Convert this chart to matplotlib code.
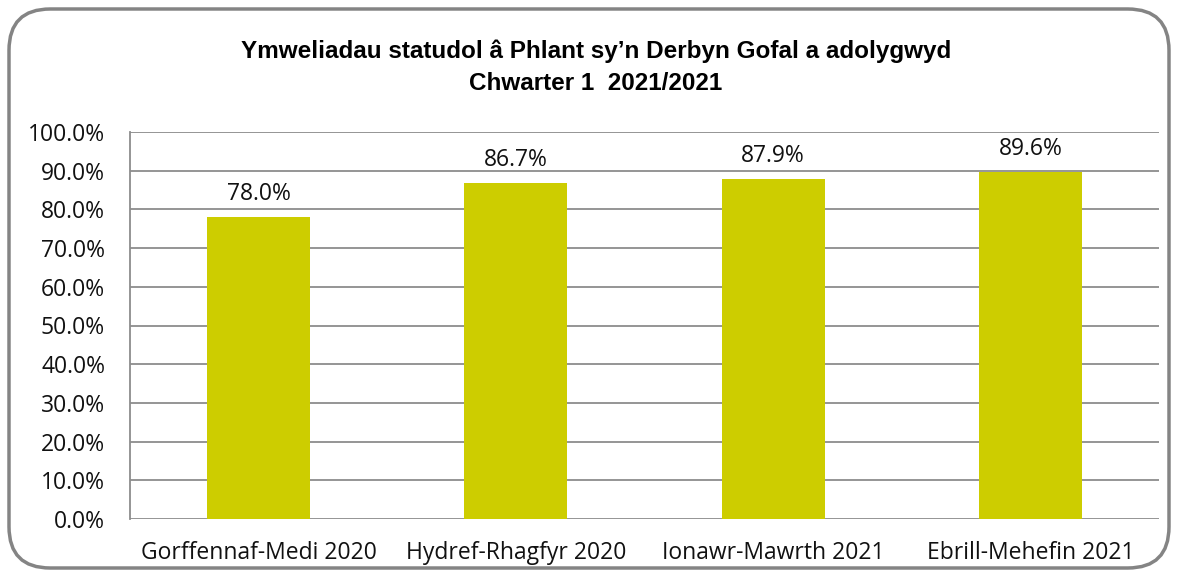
import matplotlib
matplotlib.use("Agg")
import matplotlib.pyplot as plt
from matplotlib.patches import FancyBboxPatch
from matplotlib.ticker import MultipleLocator, FuncFormatter

categories = ["Gorffennaf-Medi 2020", "Hydref-Rhagfyr 2020", "Ionawr-Mawrth 2021", "Ebrill-Mehefin 2021"]
values = [78.0, 86.7, 87.9, 89.6]
title_lines = ["Ymweliadau statudol â Phlant sy\u2019n Derbyn Gofal a adolygwyd", "Chwarter 1  2021/2021"]

W, H = 1179, 581
fig = plt.figure(figsize=(W / 100, H / 100), dpi=100)
fig.patch.set_facecolor("white")

# rounded border
border = FancyBboxPatch((9 / W, 13 / H), (W - 19) / W, (H - 22) / H,
                        boxstyle="round,pad=0,rounding_size=0.035",
                        transform=fig.transFigure, facecolor="none",
                        edgecolor="#848484", linewidth=2.5, zorder=0, mutation_aspect=W / H)
fig.patches.append(border)

ax = fig.add_axes([130 / W, (H - 519) / H, (1159 - 130) / W, (519 - 132) / H])
ax.set_facecolor("none")
x = range(len(categories))
ax.bar(x, values, width=0.4, color="#CDCD00", zorder=3)
ax.set_xlim(-0.5, len(categories) - 0.5)
ax.set_ylim(0, 100)
ax.yaxis.set_major_locator(MultipleLocator(10))
ax.yaxis.set_major_formatter(FuncFormatter(lambda v, p: f"{v:.1f}%"))
ax.grid(axis="y", color="#8c8c8c", linewidth=1.3, zorder=0)
for s in ["top", "right", "bottom"]:
    ax.spines[s].set_visible(False)
ax.spines["left"].set_color("#8c8c8c")
ax.spines["left"].set_linewidth(1.3)
fs = 16.5
ax.tick_params(axis="y", length=0, pad=18, labelsize=fs, labelcolor="#111111")
ax.tick_params(axis="x", length=0, pad=16, labelsize=fs, labelcolor="#111111")
ax.set_xticks(list(x))
ax.set_xticklabels(categories)
for lab in ax.get_xticklabels() + ax.get_yticklabels():
    lab.set_fontfamily("Open Sans")

for xi, v in zip(x, values):
    ax.annotate(f"{v:.1f}%", (xi, v), xytext=(0, 8), textcoords="offset points",
                ha="center", va="bottom", fontsize=fs, family="Open Sans", color="#111111")

tfam = ["Liberation Sans"]
fig.text(596 / W, 1 - 51 / H, title_lines[0], ha="center", va="center",
         fontsize=17.5, fontweight="bold", family=tfam)
fig.text(596 / W, 1 - 84 / H, title_lines[1], ha="center", va="center",
         fontsize=17.5, fontweight="bold", family=tfam)

fig.savefig("out.png", dpi=100)
